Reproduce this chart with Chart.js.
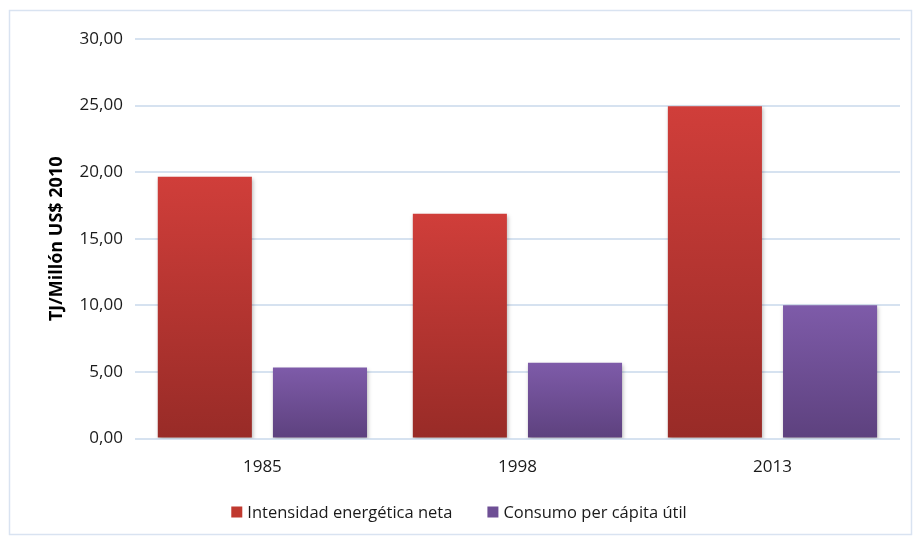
<!DOCTYPE html>
<html>
<head>
<meta charset="utf-8">
<style>
  body { margin: 0; background: #fff; }
</style>
</head>
<body>
<canvas id="intensityChart" width="914" height="539"></canvas>

<script src="https://cdn.jsdelivr.net/npm/chart.js"></script>
<script>
  const years = ["1985", "1998", "2013"];
  const intensidadNeta = [19.65, 16.88, 24.95];
  const consumoPerCapita = [5.33, 5.70, 10.02];
  const yTicks = [0, 5, 10, 15, 20, 25, 30];
  const legendColors = ["#c0392f", "#6e4f95"];

  const fmt = v => v.toFixed(2).replace(".", ",");
  const FONT = "'Open Sans', 'Liberation Sans', sans-serif";

  // vertical gradient running from the top of each bar down to its base
  function barGradient(top, bottom) {
    return ctx => {
      const chart = ctx.chart;
      const area = chart.chartArea;
      if (!area || ctx.raw === undefined) return top;
      const yTop = chart.scales.y.getPixelForValue(ctx.raw);
      const g = chart.ctx.createLinearGradient(0, yTop, 0, area.bottom);
      g.addColorStop(0, top);
      g.addColorStop(1, bottom);
      return g;
    };
  }

  const frame = {
    id: "frame",
    beforeDraw(chart) {
      const c = chart.ctx;
      c.save();
      c.strokeStyle = "#d9e3f1";
      c.lineWidth = 1.5;
      c.strokeRect(9.5, 10.5, 902, 524);
      c.restore();
    },
    beforeDatasetsDraw(chart) {
      const c = chart.ctx;
      c.save();
      c.shadowColor = "rgba(0,0,0,0.28)";
      c.shadowBlur = 4;
      c.shadowOffsetX = 1;
      c.shadowOffsetY = 2;
    },
    afterDatasetsDraw(chart) {
      chart.ctx.restore();
    }
  };

  // bottom legend: small square, short gap, label; wide gap between entries
  const bottomLegend = {
    id: "bottomLegend",
    afterDraw(chart) {
      const c = chart.ctx;
      const box = 11, boxGap = 5, itemGap = 35, y = 512;
      c.save();
      c.font = "16.5px " + FONT;
      c.textBaseline = "middle";
      const items = chart.data.datasets.map((d, i) => ({
        text: d.label,
        color: legendColors[i],
        w: c.measureText(d.label).width
      }));
      const total = items.reduce((s, it) => s + box + boxGap + it.w, 0) + itemGap * (items.length - 1);
      let x = chart.width / 2 + 2 - total / 2;
      items.forEach(it => {
        c.fillStyle = it.color;
        c.fillRect(x, y - box / 2, box, box);
        c.fillStyle = "#1a1a1a";
        c.fillText(it.text, x + box + boxGap, y + 1);
        x += box + boxGap + it.w + itemGap;
      });
      c.restore();
    }
  };

  new Chart(document.getElementById("intensityChart"), {
    type: "bar",
    data: {
      labels: years,
      datasets: [
        {
          label: "Intensidad energética neta",
          data: intensidadNeta,
          backgroundColor: barGradient("#d03e3a", "#982b27")
        },
        {
          label: "Consumo per cápita útil",
          data: consumoPerCapita,
          backgroundColor: barGradient("#7e5ba9", "#5d417e")
        }
      ]
    },
    options: {
      responsive: false,
      animation: false,
      layout: { padding: { left: 46, right: 14, top: 39, bottom: 52 } },
      datasets: {
        bar: { categoryPercentage: 0.903, barPercentage: 0.817 }
      },
      plugins: {
        tooltip: { enabled: false },
        legend: { display: false }
      },
      scales: {
        x: {
          grid: { display: false },
          border: { display: false },
          ticks: {
            color: "#1a1a1a",
            padding: 10,
            font: { family: FONT, size: 17 }
          }
        },
        y: {
          min: 0,
          max: 30,
          afterBuildTicks(axis) {
            axis.ticks = yTicks.map(v => ({ value: v }));
          },
          grid: { color: "#d6e2f0", lineWidth: 2, drawTicks: false },
          border: { display: false },
          ticks: {
            color: "#1a1a1a",
            padding: 12,
            callback: v => fmt(v),
            font: { family: FONT, size: 17 }
          },
          title: {
            display: true,
            text: "TJ/Millón US$ 2010",
            color: "#000",
            padding: 0,
            font: { family: FONT, size: 18, weight: "bold" }
          }
        }
      }
    },
    plugins: [frame, bottomLegend]
  });
</script>
</body>
</html>
